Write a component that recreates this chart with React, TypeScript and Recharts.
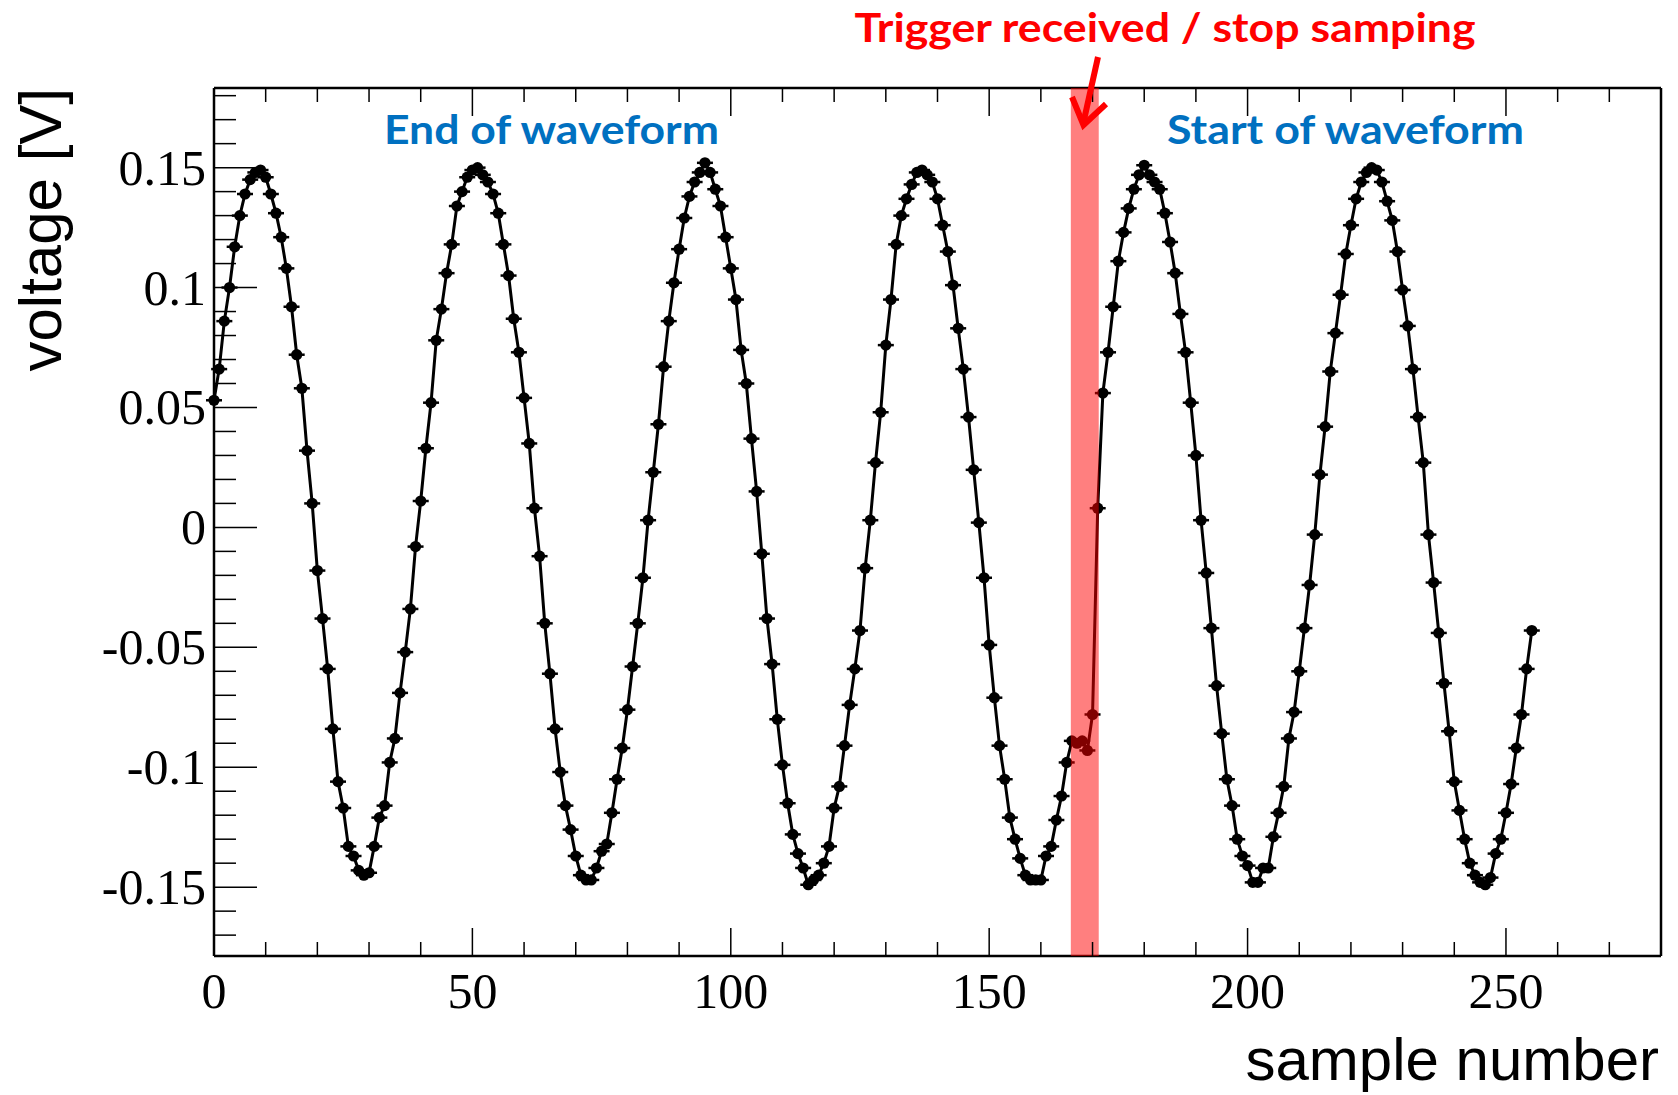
import React from "react";
import { LineChart, Line, XAxis, YAxis, ReferenceArea } from "recharts";

// sampled voltage [V], one value per sample number 0..255
const VOLTAGE = [
  0.053, 0.066, 0.086, 0.1, 0.117, 0.13, 0.139, 0.145, 0.148, 0.149,
  0.146, 0.139, 0.131, 0.121, 0.108, 0.092, 0.072, 0.058, 0.032, 0.01,
  -0.018, -0.038, -0.059, -0.084, -0.106, -0.117, -0.133, -0.137, -0.143, -0.145,
  -0.144, -0.133, -0.121, -0.116, -0.098, -0.088, -0.069, -0.052, -0.034, -0.008,
  0.011, 0.033, 0.052, 0.078, 0.091, 0.106, 0.118, 0.134, 0.14, 0.146,
  0.149, 0.15, 0.147, 0.144, 0.139, 0.131, 0.118, 0.105, 0.087, 0.073,
  0.054, 0.035, 0.008, -0.012, -0.04, -0.061, -0.084, -0.102, -0.116, -0.126,
  -0.137, -0.145, -0.147, -0.147, -0.142, -0.135, -0.132, -0.119, -0.105, -0.092,
  -0.076, -0.058, -0.04, -0.021, 0.003, 0.023, 0.043, 0.067, 0.086, 0.102,
  0.116, 0.129, 0.138, 0.144, 0.148, 0.152, 0.148, 0.141, 0.134, 0.121,
  0.108, 0.095, 0.074, 0.06, 0.037, 0.015, -0.011, -0.038, -0.057, -0.08,
  -0.099, -0.115, -0.128, -0.136, -0.142, -0.149, -0.147, -0.145, -0.14, -0.133,
  -0.117, -0.108, -0.091, -0.074, -0.059, -0.043, -0.017, 0.003, 0.027, 0.048,
  0.076, 0.095, 0.118, 0.13, 0.137, 0.143, 0.148, 0.149, 0.147, 0.144,
  0.137, 0.126, 0.115, 0.101, 0.083, 0.066, 0.046, 0.024, 0.002, -0.021,
  -0.049, -0.071, -0.091, -0.105, -0.121, -0.13, -0.138, -0.145, -0.147, -0.147,
  -0.147, -0.137, -0.133, -0.122, -0.112, -0.098, -0.089, -0.09, -0.089, -0.093,
  -0.078, 0.008, 0.056, 0.073, 0.092, 0.111, 0.123, 0.133, 0.141, 0.147,
  0.151, 0.147, 0.144, 0.141, 0.131, 0.119, 0.106, 0.089, 0.073, 0.052,
  0.03, 0.003, -0.019, -0.042, -0.066, -0.086, -0.105, -0.116, -0.13, -0.137,
  -0.141, -0.148, -0.148, -0.142, -0.142, -0.129, -0.119, -0.108, -0.088, -0.077,
  -0.06, -0.042, -0.024, -0.003, 0.022, 0.042, 0.065, 0.081, 0.097, 0.114,
  0.126, 0.137, 0.144, 0.148, 0.15, 0.149, 0.144, 0.136, 0.128, 0.115,
  0.099, 0.084, 0.066, 0.046, 0.027, -0.003, -0.023, -0.044, -0.065, -0.085,
  -0.106, -0.118, -0.13, -0.14, -0.145, -0.148, -0.149, -0.146, -0.136, -0.13,
  -0.119, -0.107, -0.092, -0.078, -0.059, -0.043,
];

const X_TICKS = [0, 10, 20, 30, 40, 50, 60, 70, 80, 90, 100, 110, 120, 130, 140, 150, 160, 170, 180, 190, 200, 210, 220, 230, 240, 250, 260, 270, 280];
const X_LABELS = [0, 50, 100, 150, 200, 250];
const Y_TICKS = [
  -0.17, -0.16, -0.15, -0.14, -0.13, -0.12, -0.11, -0.1, -0.09, -0.08, -0.07, -0.06, -0.05, -0.04, -0.03, -0.02, -0.01,
  0, 0.01, 0.02, 0.03, 0.04, 0.05, 0.06, 0.07, 0.08, 0.09, 0.1, 0.11, 0.12, 0.13, 0.14, 0.15, 0.16, 0.17, 0.18,
];
const Y_LABELS = [-0.15, -0.1, -0.05, 0, 0.05, 0.1, 0.15];
const TRIGGER_BAND = [165.8, 171.2];

const data = VOLTAGE.map((v, i) => ({ sample: i, voltage: v }));

const W = 1678;
const H = 1095;
const SERIF = '"Liberation Serif", "Times New Roman", serif';
const SANS = '"Liberation Sans", Arial, sans-serif';
const CALIBRI = 'Lato, "Open Sans", sans-serif';

const isMajor = (list: number[], v: number) => list.some((m) => Math.abs(m - v) < 1e-6);

function LeftTick({ x, y, payload }: any) {
  const major = isMajor(Y_LABELS, payload.value);
  return (
    <g>
      <line x1={x} x2={x + (major ? 43 : 22)} y1={y} y2={y} stroke="#000" strokeWidth={1.5} />
      {major && (
        <text x={x - 8} y={y + 17} textAnchor="end" fontFamily={SERIF} fontSize={50} fill="#000">
          {String(payload.value)}
        </text>
      )}
    </g>
  );
}

function RightTick({ x, y, payload }: any) {
  const major = isMajor(Y_LABELS, payload.value);
  return <line x1={x} x2={x - (major ? 43 : 22)} y1={y} y2={y} stroke="#000" strokeWidth={1.5} />;
}

function BottomTick({ x, y, payload }: any) {
  const major = isMajor(X_LABELS, payload.value);
  return (
    <g>
      <line x1={x} x2={x} y1={y} y2={y - (major ? 28 : 14)} stroke="#000" strokeWidth={1.5} />
      {major && (
        <text x={x} y={y + 52} textAnchor="middle" fontFamily={SERIF} fontSize={50} fill="#000">
          {String(payload.value)}
        </text>
      )}
    </g>
  );
}

function TopTick({ x, y, payload }: any) {
  const major = isMajor(X_LABELS, payload.value);
  return <line x1={x} x2={x} y1={y} y2={y + (major ? 28 : 14)} stroke="#000" strokeWidth={1.5} />;
}

function Marker({ cx, cy, index }: any) {
  return (
    <g key={`m-${index}`}>
      <line x1={cx - 8} x2={cx + 8} y1={cy} y2={cy} stroke="#000" strokeWidth={2.5} />
      <circle cx={cx} cy={cy} r={5.6} fill="#000" />
    </g>
  );
}

export default function App() {
  return (
    <div style={{ position: "absolute", left: 0, top: 0, width: W, height: H, background: "#fff" }}>
      <LineChart width={W} height={H} data={data} margin={{ top: 0, right: 0, bottom: 0, left: 0 }}>
        <XAxis
          xAxisId="b"
          dataKey="sample"
          type="number"
          domain={[0, 280]}
          ticks={X_TICKS}
          interval={0}
          height={139}
          tickSize={0}
          tickMargin={0}
          tick={<BottomTick />}
          axisLine={{ stroke: "#000", strokeWidth: 2.5 }}
        />
        <XAxis
          xAxisId="t"
          orientation="top"
          dataKey="sample"
          type="number"
          domain={[0, 280]}
          ticks={X_TICKS}
          interval={0}
          height={88}
          tickSize={0}
          tickMargin={0}
          tick={<TopTick />}
          axisLine={{ stroke: "#000", strokeWidth: 2.5 }}
        />
        <YAxis
          yAxisId="l"
          type="number"
          domain={[-0.1787, 0.1832]}
          ticks={Y_TICKS}
          interval={0}
          width={214}
          tickSize={0}
          tickMargin={0}
          tick={<LeftTick />}
          axisLine={{ stroke: "#000", strokeWidth: 2.5 }}
        />
        <YAxis
          yAxisId="r"
          orientation="right"
          type="number"
          domain={[-0.1787, 0.1832]}
          ticks={Y_TICKS}
          interval={0}
          width={17}
          tickSize={0}
          tickMargin={0}
          tick={<RightTick />}
          axisLine={{ stroke: "#000", strokeWidth: 2.5 }}
        />
        <Line
          xAxisId="b"
          yAxisId="l"
          type="linear"
          dataKey="voltage"
          stroke="#000"
          strokeWidth={3}
          dot={(p: any) => <Marker key={`m-${p.index}`} {...p} />}
          activeDot={false}
          isAnimationActive={false}
        />
        <ReferenceArea
          xAxisId="b"
          yAxisId="l"
          x1={TRIGGER_BAND[0]}
          x2={TRIGGER_BAND[1]}
          fill="#ff0000"
          fillOpacity={0.5}
          stroke="none"
          ifOverflow="hidden"
          {...({ zIndex: 1500 } as any)}
        />
      </LineChart>

      <svg
        width={W}
        height={H}
        style={{ position: "absolute", left: 0, top: 0, pointerEvents: "none" }}
      >
        <text
          x={1165}
          y={42}
          textAnchor="middle"
          fontFamily={CALIBRI}
          fontWeight={700}
          fontSize={40}
          fill="#ff0000"
          textLength={621}
          lengthAdjust="spacingAndGlyphs"
        >
          Trigger received / stop samping
        </text>
        <polyline points="1098,57 1084,120" fill="none" stroke="#ff0000" strokeWidth={6} />
        <polyline
          points="1072,97 1083.5,125 1106,104"
          fill="none"
          stroke="#ff0000"
          strokeWidth={6}
          strokeLinejoin="miter"
        />
        <text
          x={384}
          y={144}
          fontFamily={CALIBRI}
          fontWeight={700}
          fontSize={40}
          fill="#0070c0"
          textLength={335}
          lengthAdjust="spacingAndGlyphs"
        >
          End of waveform
        </text>
        <text
          x={1167}
          y={144}
          fontFamily={CALIBRI}
          fontWeight={700}
          fontSize={40}
          fill="#0070c0"
          textLength={357}
          lengthAdjust="spacingAndGlyphs"
        >
          Start of waveform
        </text>
        <text
          transform="translate(61,88) rotate(-90)"
          textAnchor="end"
          fontFamily={SANS}
          fontSize={60}
          fill="#000"
        >
          voltage [V]
        </text>
        <text x={1659} y={1080} textAnchor="end" fontFamily={SANS} fontSize={60} fill="#000">
          sample number
        </text>
      </svg>
    </div>
  );
}
